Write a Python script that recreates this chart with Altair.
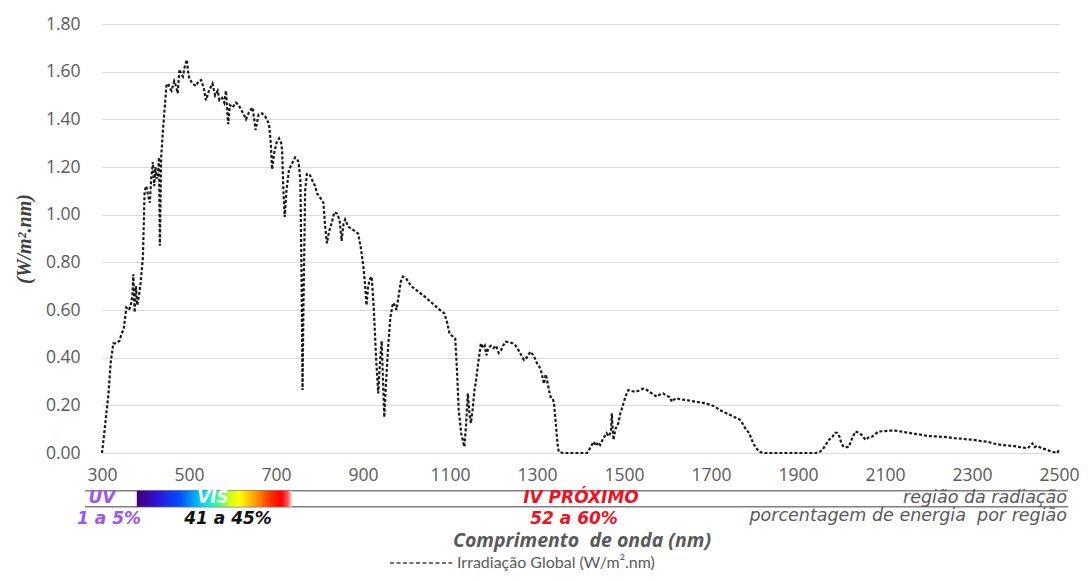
import altair as alt
import pandas as pd

# ---------------- data ----------------
wavelength = [
    300, 305, 315, 320, 326, 330, 340, 345, 350, 356, 362, 366, 370, 372, 375, 378, 381, 385, 388, 394,
    398, 402, 406, 410, 413, 417, 420, 423, 426, 429, 431, 433, 436, 440, 448, 452, 456, 460, 466, 470,
    474, 478, 482, 486, 490, 495, 498, 501, 508, 516, 522, 528, 534, 539, 546, 554, 560, 566, 570, 576,
    581, 585, 590, 594, 600, 608, 614, 620, 626, 631, 638, 646, 650, 653, 660, 668, 676, 684, 688, 691,
    696, 701, 707, 712, 714, 717, 720, 724, 730, 737, 744, 748, 752, 756, 759, 761, 763, 767, 771, 777,
    783, 790, 794, 802, 809, 813, 817, 822, 828, 834, 840, 846, 851, 855, 859, 866, 874, 882, 889, 895,
    901, 905, 908, 912, 916, 920, 925, 930, 935, 939, 943, 946, 949, 953, 958, 963, 969, 973, 977, 982,
    987, 992, 1000, 1011, 1025, 1042, 1055, 1068, 1080, 1087, 1093, 1099, 1106, 1112, 1116, 1120, 1126, 1133, 1137, 1141,
    1145, 1148, 1152, 1156, 1160, 1165, 1171, 1176, 1180, 1184, 1188, 1194, 1200, 1206, 1212, 1217, 1222, 1228, 1236, 1244,
    1251, 1258, 1264, 1270, 1276, 1285, 1292, 1300, 1306, 1310, 1316, 1320, 1323, 1328, 1331, 1336, 1339, 1343, 1347, 1350,
    1360, 1380, 1400, 1415, 1422, 1430, 1436, 1440, 1445, 1452, 1460, 1465, 1470, 1472, 1474, 1476, 1480, 1487, 1492, 1496,
    1499, 1504, 1510, 1518, 1525, 1532, 1538, 1544, 1552, 1560, 1568, 1575, 1582, 1590, 1598, 1605, 1610, 1613, 1620, 1630,
    1644, 1655, 1668, 1682, 1695, 1708, 1720, 1732, 1743, 1755, 1766, 1772, 1780, 1788, 1795, 1802, 1811, 1820, 1850, 1880,
    1910, 1941, 1950, 1956, 1964, 1971, 1980, 1985, 1990, 1995, 2000, 2005, 2012, 2017, 2024, 2032, 2040, 2047, 2055, 2062,
    2070, 2078, 2085, 2100, 2112, 2123, 2138, 2153, 2170, 2185, 2199, 2215, 2230, 2245, 2260, 2275, 2290, 2305, 2320, 2336,
    2350, 2367, 2380, 2397, 2412, 2428, 2434, 2439, 2444, 2450, 2460, 2470, 2480, 2490, 2496, 2500,
]
irradiance = [
    0.00, 0.08, 0.25, 0.38, 0.46, 0.46, 0.47, 0.50, 0.52, 0.61, 0.60, 0.62, 0.66, 0.75, 0.59, 0.70, 0.62, 0.66, 0.70, 0.82,
    1.10, 1.12, 1.08, 1.05, 1.15, 1.22, 1.12, 1.20, 1.15, 1.18, 1.24, 0.87, 1.24, 1.35, 1.54, 1.55, 1.53, 1.52, 1.56, 1.54,
    1.51, 1.61, 1.59, 1.58, 1.62, 1.65, 1.60, 1.57, 1.55, 1.54, 1.56, 1.565, 1.53, 1.48, 1.52, 1.55, 1.50, 1.52, 1.48, 1.49,
    1.47, 1.52, 1.38, 1.46, 1.45, 1.47, 1.46, 1.44, 1.42, 1.40, 1.43, 1.45, 1.40, 1.355, 1.42, 1.425, 1.41, 1.38, 1.30, 1.19,
    1.26, 1.30, 1.32, 1.30, 1.27, 1.10, 0.99, 1.10, 1.19, 1.215, 1.24, 1.235, 1.22, 1.145, 0.70, 0.264, 0.60, 1.10, 1.17, 1.17,
    1.145, 1.12, 1.09, 1.07, 1.05, 0.95, 0.88, 0.93, 0.965, 1.01, 1.005, 0.98, 0.89, 0.96, 0.98, 0.95, 0.94, 0.93, 0.92, 0.86,
    0.78, 0.70, 0.62, 0.70, 0.73, 0.74, 0.60, 0.40, 0.25, 0.38, 0.47, 0.30, 0.15, 0.30, 0.45, 0.57, 0.63, 0.62, 0.60, 0.66,
    0.72, 0.74, 0.73, 0.70, 0.68, 0.656, 0.635, 0.614, 0.595, 0.586, 0.55, 0.50, 0.49, 0.48, 0.35, 0.18, 0.08, 0.026, 0.12, 0.25,
    0.16, 0.125, 0.18, 0.26, 0.306, 0.38, 0.46, 0.44, 0.45, 0.41, 0.44, 0.45, 0.44, 0.45, 0.42, 0.43, 0.45, 0.467, 0.465, 0.46,
    0.45, 0.43, 0.41, 0.39, 0.40, 0.425, 0.41, 0.376, 0.36, 0.34, 0.29, 0.33, 0.306, 0.26, 0.236, 0.23, 0.21, 0.13, 0.04, 0.005,
    0.0, 0.0, 0.0, 0.0, 0.02, 0.047, 0.03, 0.045, 0.034, 0.06, 0.083, 0.07, 0.09, 0.167, 0.10, 0.055, 0.10, 0.125, 0.17, 0.19,
    0.21, 0.24, 0.264, 0.26, 0.257, 0.26, 0.265, 0.27, 0.265, 0.255, 0.245, 0.236, 0.245, 0.25, 0.24, 0.235, 0.215, 0.222, 0.23, 0.225,
    0.222, 0.218, 0.214, 0.21, 0.204, 0.196, 0.18, 0.17, 0.16, 0.15, 0.14, 0.125, 0.10, 0.083, 0.05, 0.025, 0.005, 0.0, 0.0, 0.0,
    0.0, 0.0, 0.005, 0.013, 0.035, 0.055, 0.07, 0.085, 0.085, 0.07, 0.04, 0.026, 0.025, 0.026, 0.06, 0.09, 0.085, 0.075, 0.055, 0.065,
    0.068, 0.08, 0.09, 0.092, 0.094, 0.094, 0.09, 0.085, 0.08, 0.076, 0.071, 0.07, 0.068, 0.066, 0.062, 0.06, 0.057, 0.055, 0.05, 0.047,
    0.04, 0.034, 0.032, 0.029, 0.024, 0.02, 0.03, 0.04, 0.025, 0.03, 0.02, 0.015, 0.008, 0.003, 0.0, 0.013,
]

x_ticks = [300, 500, 700, 900, 1100, 1300, 1500, 1700, 1900, 2100, 2300, 2500]
y_ticks = [0.0, 0.2, 0.4, 0.6, 0.8, 1.0, 1.2, 1.4, 1.6, 1.8]

series_name = "Irradiação Global (W/m².nm)"
x_title = "Comprimento\u00a0 de onda (nm)"
y_title = "(W/m².nm)"
region_labels = ["UV", "VIS", "IV PRÓXIMO"]
energy_labels = ["1 a 5%", "41 a 45%", "52 a 60%"]
row_labels = ["região da radiação", "porcentagem de energia\u00a0 por região"]
visible_band = [380, 737]

# ---------------- chart ----------------
W, H = 957, 429
AXIS_FONT = "Open Sans"
BAND_FONT = "DejaVu Sans"
GREY = "#595959"

df = pd.DataFrame({"wl": wavelength, "irr": irradiance})
one = pd.DataFrame({"k": [0]})

xscale = alt.Scale(domain=[300, 2500], nice=False, zero=False)
yscale = alt.Scale(domain=[0, 1.8], nice=False, zero=True)

line = alt.Chart(df).mark_line(
    color="#1a1a1a", strokeWidth=2.2, strokeDash=[3, 2]
).encode(
    x=alt.X("wl:Q", scale=xscale, axis=alt.Axis(
        values=x_ticks, format="d", grid=False, domain=False, ticks=False,
        labelPadding=13, labelFontSize=17.5, labelColor=GREY, labelFont=AXIS_FONT,
        labelFlush=False, labelOverlap=False, title=None)),
    y=alt.Y("irr:Q", scale=yscale, axis=alt.Axis(
        values=y_ticks, format=".2f", grid=True, gridColor="#d9d9d9", gridWidth=1,
        domain=False, ticks=False, labelPadding=22, labelFontSize=17.5,
        labelColor=GREY, labelFont=AXIS_FONT, labelOverlap=False, title=None)),
)


def label(text, x, y, color, size, font, weight="bold", style="italic", align="center", angle=0):
    return alt.Chart(pd.DataFrame({"t": [text]})).mark_text(
        color=color, fontSize=size, font=font, fontWeight=weight, fontStyle=style,
        align=align, baseline="middle", angle=angle
    ).encode(text="t:N", x=alt.value(x), y=alt.value(y))


def hrule(y, x1, x2, color, width, dash=None):
    kw = dict(color=color, strokeWidth=width)
    if dash:
        kw["strokeDash"] = dash
    return alt.Chart(one).mark_rule(**kw).encode(
        x=alt.value(x1), x2=alt.value(x2), y=alt.value(y))


spectrum = alt.Gradient(
    gradient="linear", x1=0, x2=1, y1=0, y2=0,
    stops=[
        alt.GradientStop(color="#400070", offset=0.0),
        alt.GradientStop(color="#3010d0", offset=0.12),
        alt.GradientStop(color="#0050ff", offset=0.28),
        alt.GradientStop(color="#00d4ff", offset=0.42),
        alt.GradientStop(color="#30ff90", offset=0.52),
        alt.GradientStop(color="#c8ff20", offset=0.6),
        alt.GradientStop(color="#ffff00", offset=0.66),
        alt.GradientStop(color="#ffa000", offset=0.76),
        alt.GradientStop(color="#ff3000", offset=0.86),
        alt.GradientStop(color="#ff0000", offset=0.93),
        alt.GradientStop(color="#ff5050", offset=0.97),
        alt.GradientStop(color="#ffe8e8", offset=1.0),
    ],
)

band = alt.Chart(one).mark_rect(color=spectrum).encode(
    x=alt.X(datum=visible_band[0], scale=xscale),
    x2=alt.X2(datum=visible_band[1]),
    y=alt.value(466.7), y2=alt.value(482.7),
)

layers = [
    line,
    hrule(466.7, -17, 966, "#7f7f7f", 1.5),
    hrule(482.7, -17, 966, "#7f7f7f", 1.5),
    band,
    label(region_labels[0], 0, 474, "#9b55f0", 17, BAND_FONT),
    label(region_labels[1], 111, 474, "#ffffff", 17, BAND_FONT),
    label(region_labels[2], 479, 474, "#ee1122", 17, BAND_FONT),
    label(energy_labels[0], 7, 495, "#9b55f0", 17, BAND_FONT),
    label(energy_labels[1], 126, 495, "#111111", 17, BAND_FONT),
    label(energy_labels[2], 472, 495, "#ee1122", 17, BAND_FONT),
    label(row_labels[0], 965, 474, GREY, 17.5, BAND_FONT, weight="normal", align="right"),
    label(row_labels[1], 965, 492, GREY, 17.5, BAND_FONT, weight="normal", align="right"),
    label(x_title, 480, 517, GREY, 19.5, "Open Sans"),
    label(y_title, -77, 215, "#404040", 20, "Liberation Serif", angle=270),
    hrule(539, 288, 350, "#404040", 1.5, dash=[4, 2.5]),
    label(series_name, 355, 539, GREY, 16, "Lato", weight="normal", style="normal", align="left"),
]

chart = alt.layer(*layers).properties(
    width=W, height=H,
    autosize=alt.AutoSizeParams(type="none"),
    padding={"left": 94, "top": 16, "right": 21, "bottom": 120},
).configure_view(strokeWidth=0)

chart.save("out.html", embed_options={"renderer": "svg", "actions": False})
